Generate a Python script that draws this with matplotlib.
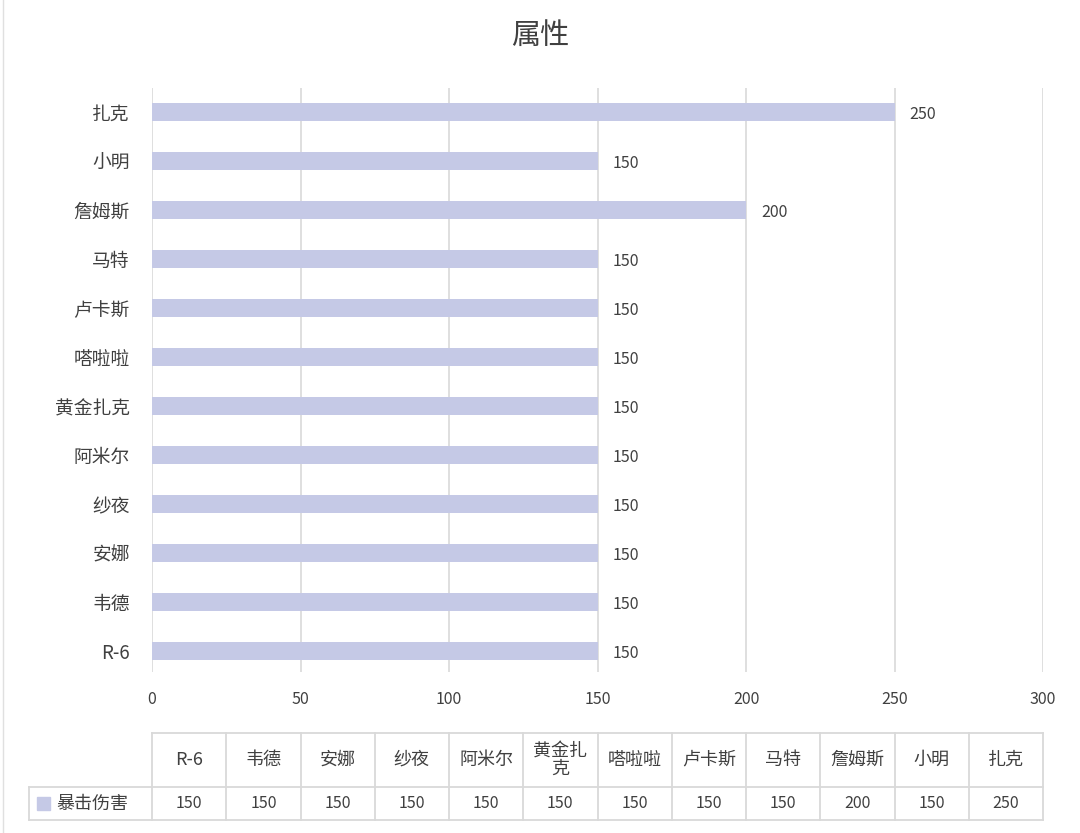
import matplotlib.pyplot as plt
import numpy as np
from matplotlib.lines import Line2D
from matplotlib.patches import Rectangle

plt.rcParams['font.family'] = ['Noto Sans CJK SC', 'DejaVu Sans']

# Data (bottom to top as drawn)
names = ['R-6', '韦德', '安娜', '纱夜', '阿米尔', '黄金扎克', '嗒啦啦',
         '卢卡斯', '马特', '詹姆斯', '小明', '扎克']
crit_damage = [150, 150, 150, 150, 150, 150, 150, 150, 150, 200, 150, 250]
series_name = '暴击伤害'
title = '属性'
x_ticks = [0, 50, 100, 150, 200, 250, 300]

bar_color = '#C5C9E6'
grid_color = '#D9D9D9'
text_color = '#404040'

W, H = 1080, 833
fig = plt.figure(figsize=(W / 100, H / 100), dpi=100)


def fx(px):
    return px / W


def fy(py):
    return 1 - py / H


# Main bar axes
ax = fig.add_axes([fx(152), fy(672), fx(1043) - fx(152), fy(88) - fy(672)])
y = np.arange(len(names))
ax.barh(y, crit_damage, height=0.35, color=bar_color, zorder=2)
ax.set_xlim(0, 300)
ax.set_ylim(-0.43, 11.49)
ax.set_xticks(x_ticks)
ax.set_xticklabels([str(t) for t in x_ticks], color=text_color, fontsize=11.5)
ax.set_yticks(y)
ax.set_yticklabels(names, color=text_color, fontsize=13.5)
ax.tick_params(axis='both', length=0)
ax.tick_params(axis='x', pad=14)
ax.tick_params(axis='y', pad=16)
ax.grid(axis='x', color=grid_color, linewidth=1.2, zorder=0)
for s in ax.spines.values():
    s.set_visible(False)

for yi, v in zip(y, crit_damage):
    ax.text(v + 5, yi - 0.05, str(v), va='center', ha='left',
            fontsize=11.5, color=text_color)

fig.text(0.5, fy(36), title, ha='center', va='center', fontsize=21,
         color=text_color)

# Data table below the chart
tab = fig.add_axes([0, 0, 1, 1])
tab.set_xlim(0, W)
tab.set_ylim(H, 0)
tab.axis('off')
tab.patch.set_alpha(0)

left, first = 29, 152
right = 1043
top, mid, bot = 733, 787, 820
ncol = len(names)
cw = (right - first) / ncol
lw = 1.3
tab.add_line(Line2D([first, right], [top, top], color=grid_color, lw=lw))
tab.add_line(Line2D([left, right], [mid, mid], color=grid_color, lw=lw))
tab.add_line(Line2D([left, right], [bot, bot], color=grid_color, lw=lw))
tab.add_line(Line2D([left, left], [mid, bot], color=grid_color, lw=lw))
for i in range(ncol + 1):
    xx = first + i * cw
    tab.add_line(Line2D([xx, xx], [top, bot], color=grid_color, lw=lw))

for i, (n, v) in enumerate(zip(names, crit_damage)):
    cx = first + (i + 0.5) * cw
    label = n if len(n) <= 3 else n[:3] + '\n' + n[3:]
    tab.text(cx, (top + mid) / 2, label, ha='center', va='center',
             fontsize=13, color=text_color, linespacing=1.0)
    tab.text(cx, (mid + bot) / 2, str(v), ha='center', va='center',
             fontsize=11.5, color=text_color)

tab.add_patch(Rectangle((37, 797), 13, 13, color=bar_color))
tab.text(56, (mid + bot) / 2, series_name, ha='left', va='center',
         fontsize=13, color=text_color)

# faint frame edge on the left
tab.add_line(Line2D([3, 3], [0, H], color='#E0E0E0', lw=1))

fig.savefig('out.png', dpi=100, facecolor='white')
